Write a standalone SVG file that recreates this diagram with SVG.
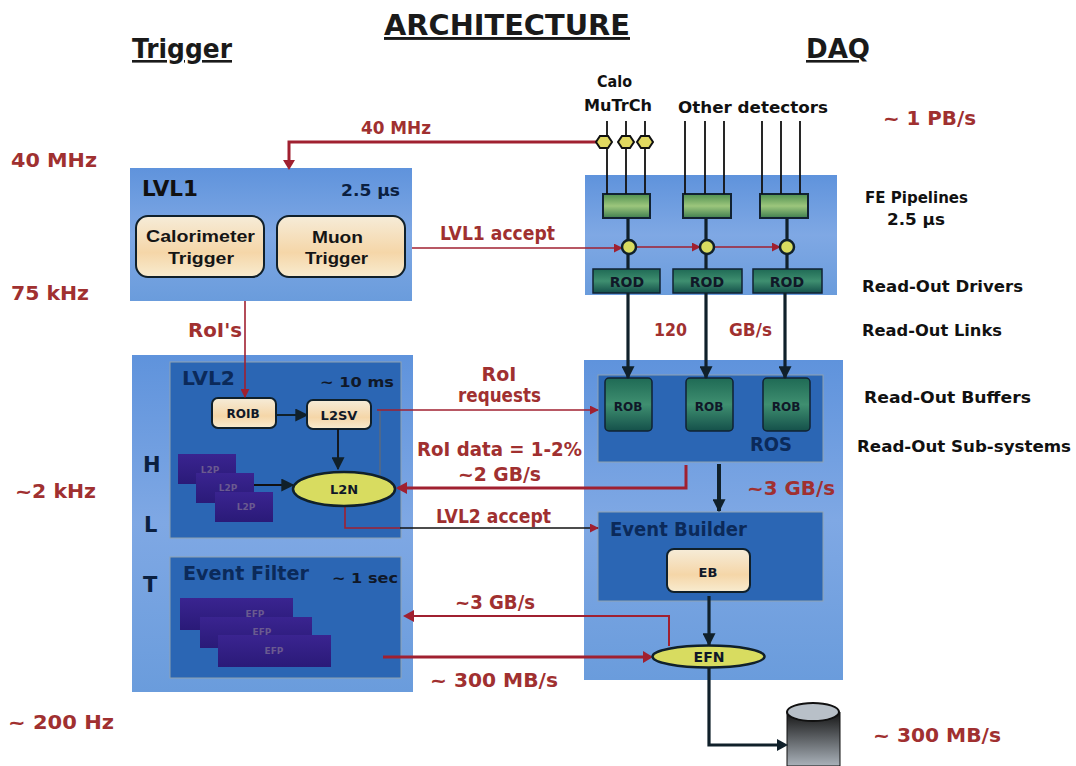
<svg xmlns="http://www.w3.org/2000/svg" width="1076" height="766" viewBox="0 0 1076 766">
<defs>
<linearGradient id="grn" x1="0" y1="0" x2="0" y2="1"><stop offset="0" stop-color="#1f6a55"/><stop offset=".5" stop-color="#3f8f70"/><stop offset="1" stop-color="#14504a"/></linearGradient>
<linearGradient id="lg" x1="0" y1="0" x2="0" y2="1"><stop offset="0" stop-color="#4f8f50"/><stop offset=".5" stop-color="#9cc67c"/><stop offset="1" stop-color="#3f7f50"/></linearGradient>
<linearGradient id="cream" x1="0" y1="0" x2="0" y2="1"><stop offset="0" stop-color="#f6ecd8"/><stop offset=".6" stop-color="#f5d6a8"/><stop offset="1" stop-color="#f8ecd0"/></linearGradient>
<linearGradient id="pur" x1="0" y1="0" x2="0" y2="1"><stop offset="0" stop-color="#3a2490"/><stop offset="1" stop-color="#2a1a78"/></linearGradient>
<linearGradient id="cyl" x1="0" y1="0" x2="0" y2="1"><stop offset="0" stop-color="#141414"/><stop offset="1" stop-color="#aab2ba"/></linearGradient>
<linearGradient id="pan" x1="0" y1="0" x2="0" y2="1"><stop offset="0" stop-color="#5f93dc"/><stop offset=".5" stop-color="#7fa8e4"/><stop offset="1" stop-color="#6a9cdc"/></linearGradient>
<marker id="ar" viewBox="0 0 10 10" refX="9" refY="5" markerWidth="9" markerHeight="9" markerUnits="userSpaceOnUse" orient="auto"><path d="M0 0L10 5L0 10z" fill="#a02030"/></marker>
<marker id="ak" viewBox="0 0 10 10" refX="9" refY="5" markerWidth="13" markerHeight="13" markerUnits="userSpaceOnUse" orient="auto"><path d="M0 0L10 5L0 10z" fill="#10202a"/></marker>
</defs>
<style>
text{font-family:"DejaVu Sans",sans-serif;font-weight:bold}
.h{font-size:29px;fill:#1a1a1a;text-decoration:underline}
.r{font-size:19px;fill:#a03030}
.b{font-size:15px;fill:#111}
.s{font-size:12px;fill:#101828}
.m{font-size:20px;fill:#0b2a5a}
.c{font-family:"Liberation Sans",sans-serif;font-size:17px;fill:#151515}
.pl{fill:url(#pan)}
.pd{fill:#2b66b4;stroke:#8fa2b0}
.red{fill:none;stroke:#a02030;stroke-width:1.6}
.redb{fill:none;stroke:#a02030;stroke-width:3}
.k{fill:none;stroke:#111;stroke-width:1.8}
.kb{fill:none;stroke:#10202a;stroke-width:3.2}
.yel{fill:#d8dc60;stroke:#10202a;stroke-width:2.5}
.cr{fill:url(#cream);stroke:#10202a;stroke-width:2}
.pu{fill:url(#pur)}
.rod{fill:url(#grn);stroke:#123;stroke-width:1.5}
.fe{fill:url(#lg);stroke:#123;stroke-width:2}
.t{font-size:9px;fill:#6a5a90;text-anchor:middle}
.mid{text-anchor:middle}
</style>
<rect width="1076" height="766" fill="#fff"/>

<g id="headers">
<text class="h" x="384" y="35" textLength="246" lengthAdjust="spacingAndGlyphs">ARCHITECTURE</text>
<text class="h" x="132" y="58" style="font-size:26px" textLength="100" lengthAdjust="spacingAndGlyphs">Trigger</text>
<text class="h" x="806" y="58" style="font-size:26px" textLength="64" lengthAdjust="spacingAndGlyphs">DAQ</text>
</g>

<g id="rates">
<text class="r" x="11" y="167" textLength="86" lengthAdjust="spacingAndGlyphs">40 MHz</text>
<text class="r" x="11" y="300" textLength="78" lengthAdjust="spacingAndGlyphs">75 kHz</text>
<text class="r" x="15" y="498" textLength="81" lengthAdjust="spacingAndGlyphs">~2 kHz</text>
<text class="r" x="8" y="729" textLength="106" lengthAdjust="spacingAndGlyphs">~ 200 Hz</text>
<text class="r" x="883" y="125" textLength="93" lengthAdjust="spacingAndGlyphs">~ 1 PB/s</text>
<text class="r" x="873" y="742" textLength="128" lengthAdjust="spacingAndGlyphs">~ 300 MB/s</text>
</g>

<g id="daq-labels">
<text class="b" x="865" y="203" textLength="103" lengthAdjust="spacingAndGlyphs">FE Pipelines</text>
<text class="b" x="887" y="225" textLength="58" lengthAdjust="spacingAndGlyphs">2.5 µs</text>
<text class="b" x="862" y="292" textLength="161" lengthAdjust="spacingAndGlyphs">Read-Out Drivers</text>
<text class="b" x="862" y="336" textLength="140" lengthAdjust="spacingAndGlyphs">Read-Out Links</text>
<text class="b" x="864" y="403" textLength="167" lengthAdjust="spacingAndGlyphs">Read-Out Buffers</text>
<text class="b" x="857" y="452" textLength="214" lengthAdjust="spacingAndGlyphs">Read-Out Sub-systems</text>
<text class="b" x="597" y="87" textLength="35" lengthAdjust="spacingAndGlyphs">Calo</text>
<text class="b" x="584" y="111" textLength="68" lengthAdjust="spacingAndGlyphs">MuTrCh</text>
<text class="b" x="678" y="113" textLength="150" lengthAdjust="spacingAndGlyphs">Other detectors</text>
</g>

<g id="lvl1">
<rect class="pl" x="130" y="168" width="282" height="133"/>
<text x="142" y="196" style="font-size:21px;fill:#111" textLength="56" lengthAdjust="spacingAndGlyphs">LVL1</text>
<text class="b" x="341" y="196" style="fill:#0b2040" textLength="59" lengthAdjust="spacingAndGlyphs">2.5 µs</text>
<rect class="cr" x="136" y="216" width="128" height="61" rx="12"/>
<rect class="cr" x="277" y="216" width="128" height="61" rx="12"/>
<text class="c" x="146" y="242" textLength="109" lengthAdjust="spacingAndGlyphs">Calorimeter</text>
<text class="c" x="168" y="264" textLength="66" lengthAdjust="spacingAndGlyphs">Trigger</text>
<text class="c" x="312" y="243" textLength="51" lengthAdjust="spacingAndGlyphs">Muon</text>
<text class="c" x="305" y="264" textLength="63" lengthAdjust="spacingAndGlyphs">Trigger</text>
</g>

<g id="hlt">
<rect class="pl" x="132" y="355" width="281" height="337"/>
<text x="143" y="472" style="font-size:21px;fill:#0b2040">H</text>
<text x="144" y="532" style="font-size:21px;fill:#0b2040">L</text>
<text x="143" y="592" style="font-size:21px;fill:#0b2040">T</text>
<rect class="pd" x="170" y="362" width="231" height="176"/>
<text class="m" x="182" y="385" textLength="53" lengthAdjust="spacingAndGlyphs">LVL2</text>
<text class="s" x="320" y="387" style="font-size:14px" textLength="74" lengthAdjust="spacingAndGlyphs">~ 10 ms</text>
<rect class="pd" x="170" y="557" width="231" height="121"/>
<text class="m" x="183" y="580" textLength="126" lengthAdjust="spacingAndGlyphs">Event Filter</text>
<text class="s" x="332" y="583" style="font-size:14px" textLength="66" lengthAdjust="spacingAndGlyphs">~ 1 sec</text>
<g id="l2p"><rect class="pu" x="178" y="454" width="58" height="30"/><rect class="pu" x="196" y="473" width="58" height="30"/><rect class="pu" x="215" y="492" width="58" height="30"/><text class="t" x="210" y="473">L2P</text><text class="t" x="228" y="491">L2P</text><text class="t" x="246" y="510">L2P</text></g>
<g id="efp"><rect class="pu" x="180" y="598" width="113" height="32"/><rect class="pu" x="200" y="617" width="112" height="31"/><rect class="pu" x="218" y="635" width="113" height="32"/><text class="t" x="255" y="617">EFP</text><text class="t" x="262" y="635">EFP</text><text class="t" x="274" y="654">EFP</text></g>
</g>
<g id="roib"><rect class="cr" x="212" y="398" width="64" height="30" rx="6"/><text class="s mid" x="243" y="418">ROIB</text></g>
<g id="l2sv"><rect class="cr" x="307" y="400" width="64" height="29" rx="6"/><text class="s mid" x="339" y="420" style="font-size:13px">L2SV</text></g>

<g id="fe-panel">
<rect class="pl" x="585" y="175" width="252" height="120"/>
<rect class="fe" x="603" y="194" width="47" height="24"/><rect class="fe" x="683" y="194" width="48" height="24"/><rect class="fe" x="760" y="194" width="48" height="24"/>
<rect class="rod" x="593" y="269" width="67" height="24"/><rect class="rod" x="673" y="269" width="69" height="24"/><rect class="rod" x="753" y="269" width="69" height="24"/>
<text class="s mid" x="627" y="287" style="font-size:14px">ROD</text><text class="s mid" x="707" y="287" style="font-size:14px">ROD</text><text class="s mid" x="787" y="287" style="font-size:14px">ROD</text>
</g>

<g id="daq-panel">
<rect class="pl" x="584" y="360" width="259" height="320"/>
<rect class="pd" x="598" y="375" width="225" height="87"/>
<rect class="rod" x="605" y="378" width="47" height="53" rx="4"/><rect class="rod" x="686" y="378" width="47" height="53" rx="4"/><rect class="rod" x="763" y="378" width="47" height="53" rx="4"/>
<text class="s mid" x="628" y="411">ROB</text><text class="s mid" x="709" y="411">ROB</text><text class="s mid" x="786" y="411">ROB</text>
<text class="m" x="750" y="451" textLength="42" lengthAdjust="spacingAndGlyphs">ROS</text>
<rect class="pd" x="598" y="512" width="225" height="89"/>
<text class="m" x="610" y="536" textLength="137" lengthAdjust="spacingAndGlyphs">Event Builder</text>
<rect class="cr" x="667" y="549" width="83" height="43" rx="7"/>
<text class="s mid" x="708" y="577" style="font-size:13px">EB</text>
</g>

<g id="storage">
<path d="M787 712V766H840V712z" fill="url(#cyl)" stroke="#111"/>
<ellipse cx="813" cy="712" rx="26" ry="9" fill="#b8c0c8" stroke="#111" stroke-width="2"/>
</g>

<g id="connectors">
<path class="redb" d="M604 142H289V166"/><path d="M283 160L289 170L295 160z" fill="#a02030"/>
<path class="k" d="M607 121V194M626 121V194M645 121V194M685 121V194M705 121V194M724 121V194M762 121V194M781 121V194M800 121V194"/>
<path class="kb" d="M628 218V269M706 218V269M787 218V269"/>
<path class="red" marker-end="url(#ar)" d="M412 248H622"/>
<path class="red" marker-end="url(#ar)" d="M636 247H700"/>
<path class="red" marker-end="url(#ar)" d="M714 247H780"/>
<path class="kb" marker-end="url(#ak)" d="M628 293V378"/>
<path class="kb" marker-end="url(#ak)" d="M706 293V378"/>
<path class="kb" marker-end="url(#ak)" d="M785 293V378"/>
<path class="red" marker-end="url(#ar)" d="M245 301V397"/>
<path class="kb" style="stroke-width:2" marker-end="url(#ak)" d="M276 415H307"/>
<path class="k" marker-end="url(#ak)" d="M338 429V469"/>
<path class="k" marker-end="url(#ak)" d="M254 485H293"/>
<path class="k" style="stroke:#5a6a80;stroke-width:1.5" d="M380 410V475"/>
<path class="red" marker-end="url(#ar)" d="M377 410H598"/>
<path class="redb" d="M686 465V488H398"/><path d="M407 482L396 488L407 494z" fill="#a02030"/>
<path class="red" d="M345 506V528H400"/>
<path class="k" style="stroke-width:1.4" marker-end="url(#ar)" d="M400 528H598"/>
<path class="kb" style="stroke-width:4" marker-end="url(#ak)" d="M719 464V511"/>
<path class="kb" marker-end="url(#ak)" d="M709 596V645"/>
<path class="redb" style="stroke-width:2" d="M669 646V616H405"/><path d="M414 610L403 616L414 622z" fill="#a02030"/>
<path class="redb" d="M383 657H645"/><path d="M643 651L653 657L643 663z" fill="#a02030"/>
<path class="kb" d="M709 668V745H780"/><path d="M777 739L788 745L777 751z" fill="#10202a"/>
</g>

<g id="nodes-top">
<g id="l2n"><ellipse class="yel" cx="344" cy="489" rx="51" ry="17"/><text class="s mid" x="344" y="494" style="font-size:13px">L2N</text></g>
<g id="taps"><path d="M600 136h8l4 6-4 6h-8l-4-6zM622 136h8l4 6-4 6h-8l-4-6zM641 136h8l4 6-4 6h-8l-4-6z" fill="#e0d860" stroke="#111" stroke-width="2"/></g>
<g id="joins"><circle cx="629" cy="247" r="7" class="yel"/><circle cx="707" cy="247" r="7" class="yel"/><circle cx="787" cy="247" r="7" class="yel"/></g>
<g id="efn"><ellipse class="yel" cx="708.500" cy="656.500" rx="56" ry="11"/><text class="s mid" x="709" y="662" style="font-size:14px">EFN</text></g>
</g>

<g id="labels">
<text class="r" x="361" y="134" style="font-size:17px" textLength="70" lengthAdjust="spacingAndGlyphs">40 MHz</text>
<text class="r" x="440" y="240" textLength="115" lengthAdjust="spacingAndGlyphs">LVL1 accept</text>
<text class="r" x="188" y="337" textLength="54" lengthAdjust="spacingAndGlyphs">RoI's</text>
<text class="r mid" x="499" y="381">RoI</text>
<text class="r" x="458" y="402" textLength="83" lengthAdjust="spacingAndGlyphs">requests</text>
<text class="r" x="417" y="456" textLength="165" lengthAdjust="spacingAndGlyphs">RoI data = 1-2%</text>
<text class="r" x="458" y="481" textLength="83" lengthAdjust="spacingAndGlyphs">~2 GB/s</text>
<text class="r" x="436" y="523" textLength="115" lengthAdjust="spacingAndGlyphs">LVL2 accept</text>
<text class="r" x="455" y="609" textLength="80" lengthAdjust="spacingAndGlyphs">~3 GB/s</text>
<text class="r" x="430" y="687" textLength="128" lengthAdjust="spacingAndGlyphs">~ 300 MB/s</text>
<text class="r" x="654" y="336" style="font-size:17px" textLength="33" lengthAdjust="spacingAndGlyphs">120</text>
<text class="r" x="729" y="336" style="font-size:17px" textLength="43" lengthAdjust="spacingAndGlyphs">GB/s</text>
<text class="r" x="747" y="495" textLength="88" lengthAdjust="spacingAndGlyphs">~3 GB/s</text>
</g>
</svg>
